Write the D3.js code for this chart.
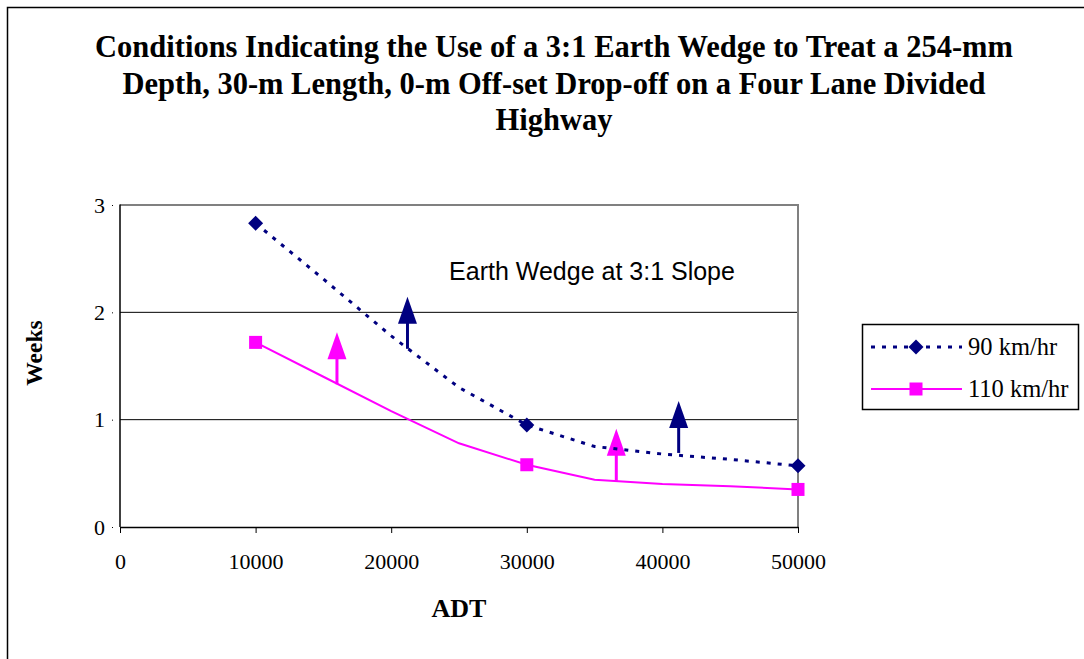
<!DOCTYPE html>
<html>
<head>
<meta charset="utf-8">
<script src="https://cdn.jsdelivr.net/npm/d3@7"></script>
<style>
  body { margin: 0; background: #fff; }
  svg { display: block; }
</style>
</head>
<body>
<svg id="chart"></svg>
<script>
// values
const adt = [10000, 15000, 20000, 25000, 30000, 35000, 40000, 45000, 50000];
const weeks90 = [2.83, 2.31, 1.78, 1.30, 0.95, 0.75, 0.68, 0.63, 0.57];
const weeks110 = [1.72, 1.40, 1.08, 0.78, 0.58, 0.44, 0.40, 0.38, 0.35];
const markedAdt = [10000, 30000, 50000];
const xTicks = [0, 10000, 20000, 30000, 40000, 50000];
const yTicks = [0, 1, 2, 3];
const arrows90 = [[21200, 1.66], [41200, 0.69]];
const arrows110 = [[16000, 1.33], [36600, 0.43]];
const titleLines = [
  "Conditions Indicating the Use of a 3:1 Earth Wedge to Treat a 254-mm",
  "Depth, 30-m Length, 0-m Off-set Drop-off on a Four Lane Divided",
  "Highway"
];

const width = 1084,
  height = 659,
  plotLeft = 120,
  plotRight = 798,
  plotTop = 205,
  plotBottom = 527,
  navy = "#000080",
  pink = "#ff00ff",
  serif = "'Liberation Serif', 'Times New Roman', serif";

const svg = d3.select("#chart").attr("width", width).attr("height", height);

// chart frame
svg.append("rect")
  .attr("x", 7.5).attr("y", 7.5)
  .attr("width", 1090).attr("height", 670)
  .attr("fill", "none").attr("stroke", "#000").attr("stroke-width", 1.5);

const x = d3.scaleLinear().domain([0, 50000]).range([plotLeft, plotRight]);
const y = d3.scaleLinear().domain([0, 3]).range([plotBottom, plotTop]);

// title
svg.append("g").selectAll("text")
  .data(titleLines)
  .enter().append("text")
  .attr("x", 554)
  .attr("y", (d, i) => 57 + i * 36.5)
  .attr("text-anchor", "middle")
  .attr("font-family", serif)
  .attr("font-weight", "bold")
  .attr("font-size", 30.5)
  .text(d => d);

// gridlines
svg.append("g").selectAll("line")
  .data(yTicks.filter(d => d > 0 && d < 3))
  .enter().append("line")
  .attr("x1", plotLeft).attr("x2", plotRight)
  .attr("y1", d => y(d)).attr("y2", d => y(d))
  .attr("stroke", "#000").attr("stroke-width", 1);

// plot border, top and right
svg.append("path")
  .attr("d", `M${plotLeft},${plotTop}H${plotRight}V${plotBottom}`)
  .attr("fill", "none").attr("stroke", "#808080").attr("stroke-width", 2);

const xAxis = d3.axisBottom(x).tickValues(xTicks).tickSize(6).tickSizeOuter(0).tickPadding(20).tickFormat(d3.format("d"));
const yAxis = d3.axisLeft(y).tickValues(yTicks).tickSize(7).tickSizeOuter(0).tickPadding(8).tickFormat(d3.format("d"));

const gx = svg.append("g").attr("transform", `translate(0,${plotBottom})`).call(xAxis);
const gy = svg.append("g").attr("transform", `translate(${plotLeft},0)`).call(yAxis);
[gx, gy].forEach(g => {
  g.select(".domain").attr("stroke", "#000").attr("stroke-width", 1.5);
  g.selectAll(".tick line").attr("stroke", "#000").attr("stroke-width", 1);
  g.selectAll(".tick text")
    .attr("font-family", serif)
    .attr("font-size", 22)
    .attr("fill", "#000");
});
gy.select(".domain").attr("d", `M0,${plotTop - 0.5}V${plotBottom}`);
gy.selectAll(".tick line").attr("x1", -8);

// axis titles
svg.append("text")
  .attr("x", (plotLeft + plotRight) / 2).attr("y", 617)
  .attr("text-anchor", "middle")
  .attr("font-family", serif).attr("font-weight", "bold").attr("font-size", 26)
  .text("ADT");
svg.append("text")
  .attr("transform", `translate(42,${(plotTop + plotBottom) / 2 - 13}) rotate(-90)`)
  .attr("text-anchor", "middle")
  .attr("font-family", serif).attr("font-weight", "bold").attr("font-size", 23.5)
  .text("Weeks");

// annotation
svg.append("text")
  .attr("x", 592).attr("y", 280)
  .attr("text-anchor", "middle")
  .attr("font-family", "'Liberation Sans', Arial, sans-serif")
  .attr("font-size", 25)
  .attr("fill", "#000")
  .text("Earth Wedge at 3:1 Slope");

const line = d3.line().x(d => x(d[0])).y(d => y(d[1]));

// arrows
function drawArrows(list, color) {
  list.forEach(a => {
    const px = x(a[0]), py = y(a[1]);
    svg.append("line")
      .attr("x1", px).attr("x2", px)
      .attr("y1", py).attr("y2", py - 26)
      .attr("stroke", color).attr("stroke-width", 3);
    svg.append("path")
      .attr("d", `M${px - 9.5},${py - 25}L${px},${py - 52}L${px + 9.5},${py - 25}Z`)
      .attr("fill", color);
  });
}
drawArrows(arrows90, navy);
drawArrows(arrows110, pink);

// series lines
svg.append("path")
  .datum(adt.map((d, i) => [d, weeks110[i]]))
  .attr("d", line)
  .attr("fill", "none").attr("stroke", pink).attr("stroke-width", 2);
svg.append("path")
  .datum(adt.map((d, i) => [d, weeks90[i]]))
  .attr("d", line)
  .attr("fill", "none").attr("stroke", navy).attr("stroke-width", 3)
  .attr("stroke-dasharray", "4,7");

// markers
const diamond = s => `M0,${-s}L${s},0L0,${s}L${-s},0Z`;
svg.append("g").selectAll("path")
  .data(adt.map((d, i) => [d, weeks90[i]]).filter(d => markedAdt.includes(d[0])))
  .enter().append("path")
  .attr("transform", d => `translate(${x(d[0])},${y(d[1])})`)
  .attr("d", diamond(7.5))
  .attr("fill", navy);
svg.append("g").selectAll("rect")
  .data(adt.map((d, i) => [d, weeks110[i]]).filter(d => markedAdt.includes(d[0])))
  .enter().append("rect")
  .attr("x", d => x(d[0]) - 6.5).attr("y", d => y(d[1]) - 6.5)
  .attr("width", 13).attr("height", 13)
  .attr("fill", pink);

// legend
const legend = svg.append("g");
legend.append("rect")
  .attr("x", 862.5).attr("y", 324.5)
  .attr("width", 216).attr("height", 85)
  .attr("fill", "#fff").attr("stroke", "#000").attr("stroke-width", 1.5);
const legendRows = [
  { label: "90 km/hr", color: navy, dash: "4,7", w: 3, y: 347 },
  { label: "110 km/hr", color: pink, dash: null, w: 2, y: 389 }
];
legendRows.forEach((r, i) => {
  legend.append("line")
    .attr("x1", 871).attr("x2", 962)
    .attr("y1", r.y).attr("y2", r.y)
    .attr("stroke", r.color).attr("stroke-width", r.w)
    .attr("stroke-dasharray", r.dash);
  if (i === 0) {
    legend.append("path")
      .attr("transform", `translate(916,${r.y})`)
      .attr("d", diamond(7.5)).attr("fill", r.color);
  } else {
    legend.append("rect")
      .attr("x", 909.5).attr("y", r.y - 6.5)
      .attr("width", 13).attr("height", 13).attr("fill", r.color);
  }
  legend.append("text")
    .attr("x", 968).attr("y", r.y + 8)
    .attr("font-family", serif).attr("font-size", 24.5)
    .text(r.label);
});
</script>
</body>
</html>
